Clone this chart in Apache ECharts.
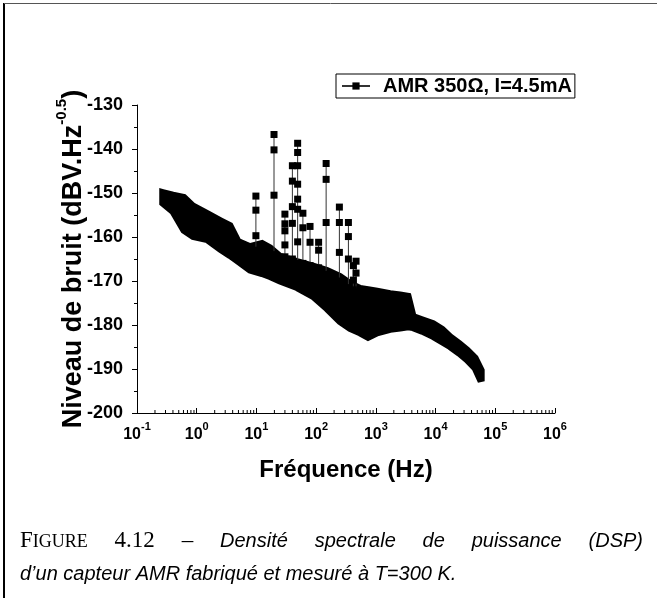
<!DOCTYPE html>
<html><head><meta charset="utf-8">
<script src="https://cdn.jsdelivr.net/npm/echarts@6/dist/echarts.min.js"></script>
<style>html,body{margin:0;padding:0;background:#fff}#c{width:657px;height:598px}</style>
</head><body><div id="c"></div>
<script>
const seriesName = 'AMR 350Ω, I=4.5mA';
const xDecades = [0.1, 1, 10, 100, 1000, 10000, 100000, 1000000];
const minorMultipliers = [2, 3, 4, 5, 6, 7, 8, 9];

// Noise band: marker-centre envelope (upper / lower)
const bandFreq  = [0.27, 0.40, 0.61, 0.87, 1.5, 2.5, 3.6, 4.9, 7.8, 12.4, 16.9, 24.8, 47.9, 88.8, 152, 251, 370, 543, 740, 1047, 1730, 2544, 3462, 4200, 5940, 9080, 12850, 17500, 24770, 33720, 45920, 58000];
const bandUpper = [-149.9, -150.5, -151.0, -153.0, -154.7, -156.3, -157.4, -161.0, -162.2, -161.5, -162.5, -164.4, -165.6, -166.6, -167.6, -169.0, -170.6, -171.7, -172.0, -172.3, -172.9, -173.2, -173.5, -178.1, -178.8, -179.7, -181.0, -182.7, -184.2, -185.7, -187.5, -190.3];
const bandLower = [-152.3, -154.2, -158.5, -159.9, -160.6, -162.8, -164.2, -165.5, -167.5, -168.3, -169.0, -170.0, -171.5, -173.5, -176.3, -179.2, -180.8, -181.8, -182.8, -181.8, -181.0, -180.7, -180.4, -180.6, -181.4, -182.6, -183.8, -184.9, -186.4, -187.9, -189.8, -192.8];

// Spikes (interference lines): frequency, band value where the spike starts, marker levels
const spikeFreq  = [9.8, 19.7, 30, 40, 49, 60, 79, 110, 147, 245, 347, 420, 466];
const spikeBase  = [-163, -164, -164.5, -165, -166, -166, -166.5, -167, -168.5, -170, -171.5, -172, -172.5];
const spikeLevels = [
  [-150.7, -153.9, -159.7],
  [-136.7, -140.2, -150.5],
  [-154.8, -157.0, -158.6, -161.8],
  [-143.8, -147.3, -153.1, -156.9],
  [-138.7, -140.8, -143.8, -148.0, -151.4, -153.7, -161.1],
  [-154.6, -157.9],
  [-157.6, -161.2],
  [-161.2, -163.0],
  [-143.3, -146.9, -156.7],
  [-153.2, -156.7, -163.5],
  [-156.7, -159.9, -165.0],
  [-166.5, -169.8],
  [-165.5, -168.2]
];

const captionWords1 = ['4.12', '–', 'Densité', 'spectrale', 'de', 'puissance', '(DSP)'];
const captionLine2 = 'd’un capteur AMR fabriqué et mesuré à T=300 K.';

const minorTicks = [];
xDecades.slice(0, -1).forEach(d => minorMultipliers.forEach(m => minorTicks.push(d * m)));

const FONT = 'Liberation Sans';

const spikeSeries = spikeFreq.map((f, i) => ({
  type: 'line',
  name: seriesName,
  data: [[f, spikeBase[i]]].concat(spikeLevels[i].slice().sort((a, b) => a - b).map(v => [f, v])),
  symbol: 'rect',
  symbolSize: 7,
  showAllSymbol: true,
  itemStyle: { color: '#000' },
  lineStyle: { color: '#333', width: 1 },
  z: 3,
  animation: false
}));

const bandSeries = {
  type: 'custom',
  coordinateSystem: 'cartesian2d',
  silent: true,
  animation: false,
  z: 2,
  data: [[bandFreq[0], bandUpper[0]]],
  renderItem: function (params, api) {
    const pts = [];
    for (let i = 0; i < bandFreq.length; i++) pts.push(api.coord([bandFreq[i], bandUpper[i]]));
    for (let i = bandFreq.length - 1; i >= 0; i--) pts.push(api.coord([bandFreq[i], bandLower[i]]));
    return {
      type: 'polygon',
      shape: { points: pts },
      style: { fill: '#000', stroke: '#000', lineWidth: 7, lineJoin: 'miter', miterLimit: 2 }
    };
  }
};

const minorTickSeries = {
  type: 'custom',
  coordinateSystem: 'cartesian2d',
  silent: true,
  animation: false,
  z: 4,
  clip: false,
  data: minorTicks.map(f => [f, -200]),
  renderItem: function (params, api) {
    const p = api.coord([api.value(0), api.value(1)]);
    return {
      type: 'line',
      shape: { x1: p[0], y1: p[1], x2: p[0], y2: p[1] - 3 },
      style: { stroke: '#000', lineWidth: 1 }
    };
  }
};

// Caption layout (justified first line, like the LaTeX original)
const mctx = document.createElement('canvas').getContext('2d');
function tw(text, font) { mctx.font = font; return mctx.measureText(text).width; }
const serifBig = '23px "Liberation Serif"';
const serifSmall = '18px "Liberation Serif"';
const sansIt = 'italic 20px "Liberation Sans"';
const figW = tw('F', serifBig) + tw('IGURE', serifSmall);
const wordFonts = captionWords1.map((w, i) => i < 2 ? serifBig : sansIt);
const wordW = captionWords1.map((w, i) => tw(w, wordFonts[i]));
const lineLeft = 20, lineRight = 643;
const totalW = figW + wordW.reduce((a, b) => a + b, 0);
const gap = (lineRight - lineLeft - totalW) / captionWords1.length;
const captionGraphics = [{
  type: 'text', x: lineLeft, y: 529,
  style: {
    text: '{F|F}{ig|IGURE}',
    rich: {
      F: { fontFamily: 'Liberation Serif', fontSize: 23, fill: '#000', verticalAlign: 'bottom' },
      ig: { fontFamily: 'Liberation Serif', fontSize: 18, fill: '#000', verticalAlign: 'bottom', padding: [0, 0, 1, 0] }
    }
  }
}];
let cx = lineLeft + figW + gap;
captionWords1.forEach((w, i) => {
  captionGraphics.push({ type: 'text', x: cx, y: i < 2 ? 529 : 531, style: { text: w, font: wordFonts[i], fill: '#000' } });
  cx += wordW[i] + gap;
});
captionGraphics.push({ type: 'text', x: lineLeft, y: 564, style: { text: captionLine2, font: sansIt, fill: '#000' } });

const chart = echarts.init(document.getElementById('c'), null, { renderer: 'canvas' });
chart.setOption({
  animation: false,
  backgroundColor: '#fff',
  grid: { left: 137, right: 102, top: 105, bottom: 185, containLabel: false, outerBoundsMode: 'none' },
  legend: {
    data: [seriesName],
    left: 336,
    top: 74,
    orient: 'horizontal',
    borderColor: '#000',
    borderWidth: 1,
    padding: [2, 3, 2, 5],
    itemWidth: 28,
    itemHeight: 9,
    selectedMode: false,
    textStyle: { fontFamily: FONT, fontWeight: 'bold', fontSize: 20, color: '#000', padding: [0, 0, 0, 8] }
  },
  xAxis: {
    type: 'log',
    logBase: 10,
    min: 0.1,
    max: 1000000,
    name: 'Fréquence (Hz)',
    nameLocation: 'middle',
    nameGap: 45,
    nameMoveOverlap: false,
    nameTextStyle: { fontFamily: FONT, fontWeight: 'bold', fontSize: 24, color: '#000' },
    axisLine: { show: true, onZero: false, lineStyle: { color: '#000', width: 1 } },
    axisTick: { show: true, inside: true, length: 5, lineStyle: { color: '#000' } },
    splitLine: { show: false },
    axisLabel: {
      margin: 8,
      formatter: function (v) {
        const e = Math.round(Math.log10(v));
        return '{b|10}{s|' + e + '}';
      },
      rich: {
        b: { fontFamily: FONT, fontWeight: 'bold', fontSize: 16, color: '#000', padding: [6, 0, 0, 0], verticalAlign: 'top' },
        s: { fontFamily: FONT, fontWeight: 'bold', fontSize: 11, color: '#000', verticalAlign: 'top' }
      }
    }
  },
  yAxis: {
    type: 'value',
    min: -200,
    max: -130,
    interval: 10,
    name: '{m|Niveau de bruit (dBV.Hz}{s|-0.5}{m|)}',
    nameLocation: 'middle',
    nameGap: 50,
    nameMoveOverlap: false,
    nameRotate: 90,
    nameTextStyle: {
      fontFamily: FONT, fontWeight: 'bold', fontSize: 27, color: '#000',
      rich: {
        m: { fontFamily: FONT, fontWeight: 'bold', fontSize: 27, color: '#000', padding: [6, 0, 0, 0], verticalAlign: 'top' },
        s: { fontFamily: FONT, fontWeight: 'bold', fontSize: 15, color: '#000', verticalAlign: 'top' }
      }
    },
    axisLine: { show: true, onZero: false, lineStyle: { color: '#000', width: 1 } },
    axisTick: { show: true, inside: false, length: 5, lineStyle: { color: '#000' } },
    minorTick: { show: true, splitNumber: 2, length: 3, lineStyle: { color: '#000' } },
    splitLine: { show: false },
    axisLabel: { margin: 14, fontFamily: FONT, fontWeight: 'bold', fontSize: 18, color: '#000' }
  },
  series: [bandSeries].concat(spikeSeries).concat([minorTickSeries]),
  graphic: [
    { type: 'line', shape: { x1: 4, y1: 3, x2: 4, y2: 598 }, style: { stroke: '#000', lineWidth: 2 } },
    { type: 'line', shape: { x1: 4, y1: 3.5, x2: 657, y2: 3.5 }, style: { stroke: '#555', lineWidth: 1 } }
  ].concat(captionGraphics)
});
</script>
</body></html>
